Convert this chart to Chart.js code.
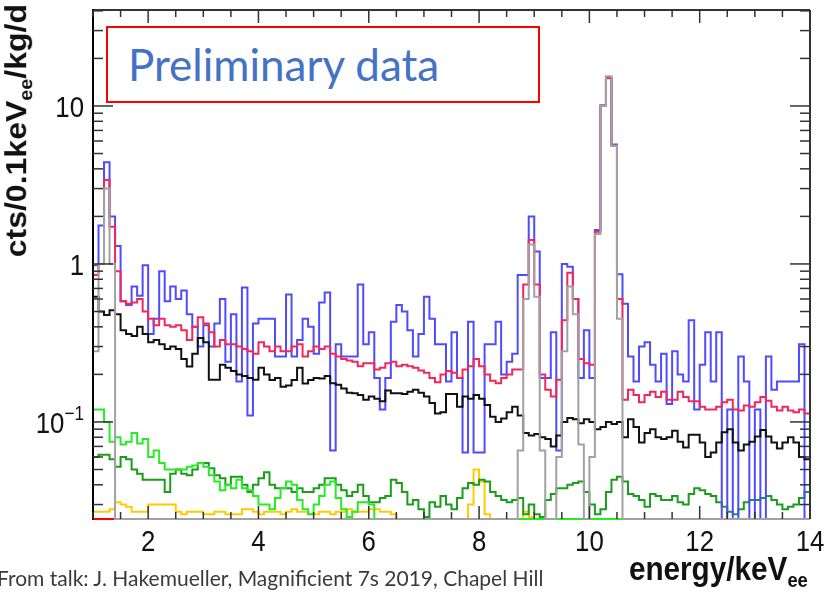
<!DOCTYPE html>
<html>
<head>
<meta charset="utf-8">
<script src="https://cdn.jsdelivr.net/npm/chart.js@4"></script>
<style>
  body { margin: 0; background: #fff; }
  #wrap { position: relative; width: 828px; height: 593px; overflow: hidden; background: #fff; }
  #c { position: absolute; left: 0; top: 0; }
  .axtitle { position: absolute; font-family: "Liberation Sans", Arial, sans-serif; font-weight: bold; color: #111; white-space: nowrap; }
  .axtitle sub { font-size: 62%; vertical-align: -0.35em; }
  #ytitle { left: 1px; top: 258px; width: 254px; font-size: 32px; line-height: 32px; text-align: right;
            transform-origin: 0 0; transform: scaleX(0.92) rotate(-90deg); }
  #xtitle { right: 20px; top: 551px; font-size: 33px; line-height: 36px; transform-origin: 100% 0; transform: scaleX(0.9); }
  #prelim { position: absolute; left: 106px; top: 26px; width: 410px; height: 73px; border: 2px solid #ff0000; background: #fff;
            font-family: Lato, "Open Sans", sans-serif; font-size: 44px; color: #4472c4; line-height: 73px; padding-left: 20px; box-sizing: content-box; }
  #note { position: absolute; left: -3px; top: 565px; font-family: Lato, "Open Sans", sans-serif; font-size: 21px; color: #3a3a3a; white-space: nowrap; }
</style>
</head>
<body>
<div id="wrap">
  <canvas id="c" width="828" height="593"></canvas>
  <div id="ytitle" class="axtitle">cts/0.1keV<sub>ee</sub>/kg/d</div>
  <div id="xtitle" class="axtitle">energy/keV<sub>ee</sub></div>
  <div id="prelim">Preliminary data</div>
  <div id="note">From talk: J. Hakemueller, Magnificient 7s 2019, Chapel Hill</div>
</div>
<script>
// 130 bins of 0.1 keV from 1 to 14 keV, counts in cts/0.1keV/kg/d (0 = empty bin)
const binEdges = Array.from({ length: 131 }, (_, i) => +(1 + 0.1 * i).toFixed(1));

const blueCounts = [
  0.98, 1.75, 4.4, 2.0, 1.3, 0.58, 0.55, 0.72, 0.63, 0.98,
  0.36, 0.45, 0.9, 0.58, 0.72, 0.6, 0.68, 0.48, 0.4, 0.3,
  0.41, 0.3, 0.42, 0.6, 0.24, 0.48, 0.18, 0.71, 0.11, 0.42,
  0.45, 0.45, 0.45, 0.26, 0.26, 0.64, 0.26, 0.33, 0.45, 0.4,
  0.27, 0.57, 0.66, 0.066, 0.31, 0.26, 0.26, 0.26, 0.74, 0.31,
  0.37, 0.19, 0.12, 0.19, 0.43, 0.55, 0.5, 0.38, 0.26, 0.36,
  0.62, 0.45, 0.31, 0.31, 0.18, 0.37, 0.19, 0.064, 0.43, 0.064,
  0.064, 0.31, 0.31, 0.43, 0.2, 0.24, 0.27, 0.85, 0.85, 2.0,
  1.2, 0.19, 0.19, 0.37, 0.066, 1.0, 0.96, 0.6, 0.19, 0.38,
  0.19, 1.64, 10.1, 15.2, 5.7, 0.86, 0.56, 0.26, 0.18, 0.3,
  0.32, 0.23, 0.18, 0.27, 0.13, 0.28, 0.2, 0.18, 0.44, 0.12,
  0.23, 0.37, 0.18, 0.37, 0, 0.12, 0, 0.26, 0.18, 0,
  0.12, 0, 0.26, 0.16, 0.18, 0.18, 0.18, 0.18, 0.31, 0
];

const redCounts = [
  0.85, 1.0, 3.4, 1.72, 0.9, 0.58, 0.56, 0.57, 0.6, 0.5,
  0.45, 0.41, 0.45, 0.41, 0.4, 0.41, 0.38, 0.33, 0.4, 0.46,
  0.42, 0.37, 0.3, 0.33, 0.31, 0.31, 0.3, 0.29, 0.28, 0.27,
  0.32, 0.3, 0.28, 0.3, 0.28, 0.28, 0.3, 0.31, 0.26, 0.28,
  0.3, 0.29, 0.3, 0.27, 0.26, 0.25, 0.245, 0.24, 0.225, 0.235,
  0.235, 0.215, 0.22, 0.235, 0.24, 0.225, 0.23, 0.225, 0.22, 0.212,
  0.205, 0.19, 0.178, 0.2, 0.21, 0.205, 0.19, 0.215, 0.225, 0.25,
  0.225, 0.2, 0.182, 0.176, 0.19, 0.2, 0.215, 0.215, 0.74, 1.42,
  0.74, 0.2, 0.16, 0.145, 0.185, 0.44, 0.88, 0.6, 0.25, 0.235,
  0.23, 1.6, 10.0, 15.0, 5.6, 0.6, 0.138, 0.16, 0.148, 0.133,
  0.148, 0.155, 0.144, 0.155, 0.138, 0.138, 0.155, 0.144, 0.135, 0.135,
  0.125, 0.12, 0.12, 0.125, 0.133, 0.138, 0.12, 0.118, 0.127, 0.125,
  0.133, 0.144, 0.136, 0.125, 0.118, 0.125, 0.118, 0.115, 0.12, 0.113
];

const blackCounts = [
  0.62, 0.5, 0.475, 0.51, 0.48, 0.38, 0.36, 0.35, 0.4, 0.36,
  0.32, 0.33, 0.31, 0.29, 0.3, 0.29, 0.25, 0.224, 0.27, 0.34,
  0.32, 0.185, 0.185, 0.23, 0.22, 0.21, 0.2, 0.195, 0.19, 0.185,
  0.22, 0.2, 0.184, 0.19, 0.167, 0.17, 0.184, 0.22, 0.175, 0.184,
  0.19, 0.188, 0.195, 0.176, 0.172, 0.163, 0.153, 0.152, 0.148, 0.138,
  0.145, 0.14, 0.135, 0.158, 0.152, 0.152, 0.15, 0.155, 0.16, 0.153,
  0.145, 0.132, 0.113, 0.115, 0.15, 0.15, 0.125, 0.145, 0.14, 0.148,
  0.14, 0.128, 0.108, 0.1, 0.105, 0.115, 0.125, 0.11, 0.085, 0.082,
  0.084, 0.08, 0.078, 0.07, 0.082, 0.1, 0.106, 0.104, 0.098, 0.104,
  0.1, 0.09, 0.093, 0.1, 0.097, 0.1, 0.08, 0.104, 0.093, 0.074,
  0.085, 0.09, 0.08, 0.078, 0.08, 0.088, 0.075, 0.069, 0.083, 0.083,
  0.074, 0.06, 0.064, 0.074, 0.086, 0.09, 0.074, 0.066, 0.072, 0.075,
  0.081, 0.089, 0.081, 0.074, 0.068, 0.074, 0.08, 0.074, 0.06, 0.058
];

const grayCounts = [
  0.28, 1.0, 3.0, 1.0, 0, 0, 0, 0, 0, 0,
  0, 0, 0, 0, 0, 0, 0, 0, 0, 0,
  0, 0, 0, 0, 0, 0, 0, 0, 0, 0,
  0, 0, 0, 0, 0, 0, 0, 0, 0, 0,
  0, 0, 0, 0, 0, 0, 0, 0, 0, 0,
  0, 0, 0, 0, 0, 0, 0, 0, 0, 0,
  0, 0, 0, 0, 0, 0, 0, 0, 0, 0,
  0, 0, 0, 0, 0, 0, 0, 0.066, 0.6, 1.33,
  0.62, 0.066, 0, 0, 0.06, 0.28, 0.72, 0.48, 0.072, 0,
  0.06, 1.55, 10.0, 15.4, 5.6, 0.45, 0, 0, 0, 0,
  0, 0, 0, 0, 0, 0, 0, 0, 0, 0,
  0, 0, 0, 0, 0, 0, 0, 0, 0, 0,
  0, 0, 0, 0, 0, 0, 0, 0, 0, 0
];

const limeCounts = [
  0.12, 0.12, 0.1, 0.075, 0.08, 0.072, 0.075, 0.085, 0.073, 0.078,
  0.06, 0.066, 0.055, 0.05, 0.05, 0.05, 0.05, 0.052, 0.053, 0.055,
  0.052, 0.046, 0.042, 0.037, 0.04, 0.038, 0.043, 0.038, 0.037, 0.034,
  0.03, 0.03, 0.028, 0.033, 0.038, 0.042, 0.04, 0.032, 0.028, 0.026,
  0.03, 0.034, 0.04, 0.042, 0.033, 0.028, 0.025, 0.027, 0.031, 0.031,
  0.03, 0, 0, 0, 0, 0, 0, 0, 0, 0,
  0, 0, 0, 0, 0, 0, 0, 0, 0, 0,
  0, 0, 0, 0, 0, 0, 0, 0, 0, 0,
  0, 0, 0, 0, 0, 0, 0, 0, 0, 0,
  0, 0, 0, 0, 0, 0, 0, 0, 0, 0,
  0, 0, 0, 0, 0, 0, 0, 0, 0, 0,
  0, 0, 0, 0, 0, 0, 0, 0, 0, 0,
  0, 0, 0, 0, 0, 0, 0, 0, 0, 0
];

const darkGreenCounts = [
  0.06, 0.062, 0.062, 0.058, 0.052, 0.06, 0.058, 0.05, 0.047, 0.043,
  0.043, 0.043, 0.043, 0.036, 0.047, 0.05, 0.047, 0.046, 0.05, 0.055,
  0.055, 0.051, 0.046, 0.044, 0.04, 0.045, 0.045, 0.04, 0.036, 0.04,
  0.044, 0.048, 0.04, 0.038, 0.038, 0.038, 0.036, 0.038, 0.036, 0.036,
  0.038, 0.04, 0.044, 0.044, 0.04, 0.037, 0.034, 0.036, 0.04, 0.034,
  0.031, 0.031, 0.033, 0.034, 0.043, 0.041, 0.036, 0.03, 0.032, 0.028,
  0.025, 0.031, 0.029, 0.034, 0.03, 0.028, 0.033, 0.038, 0.041, 0.04,
  0.043, 0.042, 0.036, 0.034, 0.032, 0.031, 0.032, 0.033, 0.026, 0.03,
  0.026, 0.025, 0.032, 0.035, 0.038, 0.038, 0.04, 0.041, 0.042, 0.036,
  0.03, 0.026, 0.028, 0.036, 0.043, 0.045, 0.042, 0.035, 0.034, 0.032,
  0.029, 0.035, 0.034, 0.032, 0.032, 0.034, 0.031, 0.03, 0.035, 0.038,
  0.037, 0.035, 0.034, 0.031, 0.029, 0.027, 0.026, 0.028, 0.031, 0.032,
  0.032, 0.033, 0.034, 0.032, 0.03, 0.028, 0.029, 0.03, 0.033, 0.036
];

const yellowCounts = [
  0.027, 0.027, 0.027, 0.028, 0.031, 0.03, 0.029, 0.027, 0.027, 0.027,
  0.03, 0.03, 0.03, 0.03, 0.03, 0.027, 0.026, 0.027, 0.027, 0.027,
  0.026, 0.026, 0.027, 0.027, 0.026, 0.026, 0.026, 0.028, 0.028, 0.027,
  0.026, 0.027, 0.027, 0.027, 0.026, 0.027, 0.028, 0.027, 0.027, 0.026,
  0.026, 0.027, 0.027, 0.026, 0.027, 0.027, 0.028, 0.027, 0.027, 0.027,
  0.028, 0.028, 0.027, 0.027, 0.026, 0, 0, 0, 0, 0,
  0, 0, 0, 0, 0, 0, 0, 0, 0.03, 0.05,
  0.042, 0.026, 0, 0, 0, 0, 0, 0, 0.027, 0.025,
  0, 0, 0, 0, 0, 0, 0, 0, 0, 0,
  0, 0, 0, 0, 0, 0, 0, 0, 0, 0,
  0, 0, 0, 0, 0, 0, 0, 0, 0, 0,
  0, 0, 0, 0, 0, 0, 0, 0, 0, 0,
  0, 0, 0, 0, 0, 0, 0, 0, 0, 0
];

// empty red histogram, only visible below 1.4 keV where nothing covers the frame
const redLowCounts = [0, 0, 0, 0];

const xRange = [1, 14];
const yRange = [0.0243, 40.5];
const xLabels = [2, 4, 6, 8, 10, 12, 14];
const yLabels = [{ v: 0.1, base: '10', exp: '\u22121' }, { v: 1, base: '1', exp: '' }, { v: 10, base: '10', exp: '' }];

// empty bins sit on the frame floor, as ROOT draws them
const toSteps = (vals) => vals.map((v, i) => ({ x: binEdges[i], y: v > 0 ? v : yRange[0] }))
  .concat([{ x: binEdges[vals.length], y: vals[vals.length - 1] > 0 ? vals[vals.length - 1] : yRange[0] }]);

const hist = (label, vals, color) => ({
  label,
  data: toSteps(vals),
  borderColor: color,
  borderWidth: 2,
  stepped: 'before',
  pointRadius: 0,
  fill: false,
  clip: { left: 0, right: 0, top: 0, bottom: 2 }
});

const LABEL_FONT = '30px "Liberation Sans", Arial, sans-serif';
const SQUEEZE = 0.86;

const rootFrame = {
  id: 'rootFrame',
  beforeDatasetsDraw(chart) {
    const { ctx, chartArea: a } = chart;
    ctx.save();
    ctx.strokeStyle = '#555';
    ctx.lineWidth = 2;
    ctx.beginPath(); ctx.moveTo(a.left, a.bottom); ctx.lineTo(a.right, a.bottom); ctx.stroke();
    ctx.restore();
  },
  afterDatasetsDraw(chart) {
    const { ctx, chartArea: a, scales: { x, y } } = chart;
    ctx.save();
    const seg = (x1, y1, x2, y2) => { ctx.beginPath(); ctx.moveTo(x1, y1); ctx.lineTo(x2, y2); ctx.stroke(); };

    // frame
    ctx.lineWidth = 2;
    ctx.strokeStyle = '#333';
    seg(a.left, a.top, a.right, a.top);
    seg(a.right, a.top, a.right, a.bottom);
    ctx.strokeStyle = '#000';
    seg(a.left, a.top - 1, a.left, a.bottom + 1);

    // x ticks, inward, every 0.5 keV
    ctx.lineWidth = 1.5;
    ctx.strokeStyle = '#333';
    for (let v = 1; v <= 14.001; v += 0.5) {
      const px = x.getPixelForValue(v);
      const len = Math.abs(v % 2) < 1e-6 ? 13 : 7;
      seg(px, a.top, px, a.top + len);
      seg(px, a.bottom, px, a.bottom - len);
    }
    // y ticks, log
    for (let e = -2; e <= 1; e++) {
      for (let m = 1; m <= 9; m++) {
        const v = m * Math.pow(10, e);
        if (v < yRange[0] || v > yRange[1]) continue;
        const py = y.getPixelForValue(v);
        const len = m === 1 ? 20 : 10;
        seg(a.left, py, a.left + len, py);
        seg(a.right, py, a.right - len, py);
      }
    }

    // tick labels (squeezed like the original picture)
    ctx.fillStyle = '#111';
    ctx.font = LABEL_FONT;
    ctx.textBaseline = 'alphabetic';
    xLabels.forEach(v => {
      const px = x.getPixelForValue(v);
      const w = ctx.measureText(String(v)).width * SQUEEZE;
      ctx.save();
      ctx.translate(px - w / 2, 551);
      ctx.scale(SQUEEZE, 1);
      ctx.fillText(String(v), 0, 0);
      ctx.restore();
    });
    const right = a.left - 9;
    yLabels.forEach(l => {
      const py = y.getPixelForValue(l.v) + 11;
      ctx.font = LABEL_FONT;
      const wb = ctx.measureText(l.base).width * SQUEEZE;
      ctx.font = '20px "Liberation Sans", Arial, sans-serif';
      const we = l.exp ? ctx.measureText(l.exp).width * SQUEEZE : 0;
      ctx.save();
      ctx.translate(right - we - wb, py);
      ctx.scale(SQUEEZE, 1);
      ctx.font = LABEL_FONT;
      ctx.fillText(l.base, 0, 0);
      ctx.restore();
      if (l.exp) {
        ctx.save();
        ctx.translate(right - we, py - 13);
        ctx.scale(SQUEEZE, 1);
        ctx.font = '20px "Liberation Sans", Arial, sans-serif';
        ctx.fillText(l.exp, 0, 0);
        ctx.restore();
      }
    });
    ctx.restore();
  }
};

new Chart(document.getElementById('c'), {
  type: 'line',
  data: {
    datasets: [
      hist('gray', grayCounts, '#a2a2a2'),
      hist('black', blackCounts, '#111111'),
      hist('red', redCounts, '#f2275c'),
      hist('blue', blueCounts, '#4f4cff'),
      hist('lime', limeCounts, '#26ec26'),
      hist('dark green', darkGreenCounts, '#1b9c1b'),
      hist('yellow', yellowCounts, '#ffcb00'),
      hist('red low', redLowCounts, '#ff0000')
    ]
  },
  options: {
    responsive: false,
    animation: false,
    devicePixelRatio: 1,
    layout: { padding: { top: 10, right: 18, left: 0, bottom: 0 } },
    plugins: { legend: { display: false }, tooltip: { enabled: false } },
    scales: {
      x: {
        type: 'linear', min: xRange[0], max: xRange[1],
        grid: { display: false }, border: { display: false }, ticks: { display: false },
        afterFit: (s) => { s.height = 74; }
      },
      y: {
        type: 'logarithmic', min: yRange[0], max: yRange[1],
        grid: { display: false }, border: { display: false }, ticks: { display: false },
        afterFit: (s) => { s.width = 93; }
      }
    }
  },
  plugins: [rootFrame]
});
</script>
</body>
</html>
